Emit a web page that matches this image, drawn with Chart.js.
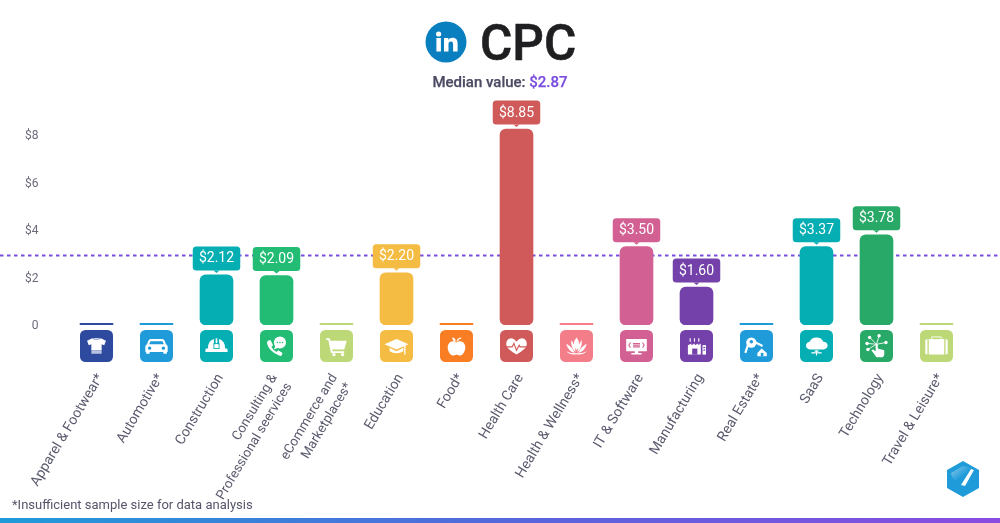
<!DOCTYPE html>
<html><head><meta charset="utf-8">
<style>
html,body{margin:0;padding:0;background:#fff;width:1000px;height:523px;overflow:hidden;font-family:Roboto,sans-serif}
#wrap{position:relative;width:1000px;height:523px}
canvas#c{position:absolute;left:0;top:0}
.t{position:absolute;white-space:nowrap}
#title{left:480px;top:14px;font-size:49.5px;line-height:58px;font-weight:500;color:#1f1f21;-webkit-text-stroke:.6px #1f1f21}
#sub{left:0;width:1000px;text-align:center;top:73px;font-size:15px;line-height:18px;font-weight:500;color:#4b4b63;-webkit-text-stroke:.25px}
#sub span{color:#7a4de0}
#foot{left:12px;top:497px;font-size:13px;line-height:16px;color:#55556a}
#bar{position:absolute;left:0;right:0;top:518px;height:5px;background:linear-gradient(90deg,#1f9bd9 0%,#5a63dc 55%,#8a4be0 100%)}
svg{position:absolute}
</style>
<script src="https://cdn.jsdelivr.net/npm/chart.js@4"></script>
</head><body><div id="wrap">
<canvas id="c" width="1000" height="523"></canvas>
<svg style="left:425px;top:21px" width="42" height="42" viewBox="0 0 42 42"><circle cx="21" cy="21" r="20.5" fill="#0a7fc0"/><g fill="#fff"><circle cx="13.6" cy="13" r="2.6"/><rect x="11.4" y="17" width="4.5" height="13.5"/><path d="M19 17h4.3v1.9c.8-1.3 2.4-2.2 4.3-2.2 3.6 0 5 2.2 5 5.9v7.9h-4.5v-7c0-1.900-.6-3-2.200-3-1.800 0-2.400 1.300-2.400 3v7H19z"/></g></svg>
<div class="t" id="title">CPC</div>
<div class="t" id="sub">Median value: <span>$2.87</span></div>
<div class="t" id="foot">*Insufficient sample size for data analysis</div>
<svg style="left:945px;top:460px" width="36" height="38" viewBox="0 0 36 38"><defs><linearGradient id="g" x1="0" y1="0" x2="1" y2="1"><stop offset="0" stop-color="#8fcdec"/><stop offset=".55" stop-color="#1f9bd9"/></linearGradient></defs><path d="M18 1L34 10V28L18 37L2 28V10Z" fill="#1f9bd9"/><path d="M6 13L18 6L28 8L20 24C12 24 7 19 6 13Z" fill="url(#g)"/><path d="M26 9L29 10L20 26L16 25Z" fill="#fff"/></svg>
<div id="bar"></div>
</div>
<script>
const categories = [
  "Apparel & Footwear*", "Automotive*", "Construction",
  ["Consulting &", "Professional seervices"],
  ["eCommerce and", "Marketplaces*"],
  "Education", "Food*", "Health Care", "Health & Wellness*",
  "IT & Software", "Manufacturing", "Real Estate*", "SaaS", "Technology", "Travel & Leisure*"
];
// Bar lengths (starred rows are only a thin stub).
const barValues = [0.07, 0.07, 2.11, 2.08, 0.07, 2.2, 0.07, 8.25, 0.07, 3.3, 1.6, 0.07, 3.3, 3.8, 0.07];
// Printed callouts; null where no callout is shown.
const valueLabels = [null, null, "$2.12", "$2.09", null, "$2.20", null, "$8.85", null, "$3.50", "$1.60", null, "$3.37", "$3.78", null];
const barColors = ["#2e4a9e", "#1f9bd9", "#05aeb3", "#22bc75", "#bdd876", "#f4bc43", "#f97d23", "#d05a5a", "#f47d8a", "#d36092", "#7440a9", "#1f9bd9", "#05aeb3", "#29a968", "#bdd876"];
const iconNames = ["shirt", "car", "helmet", "phone", "cart", "cap", "apple", "heart", "lotus", "monitor", "factory", "key", "cloud", "touch", "case"];
const yTickValues = [0, 2, 4, 6, 8];
const medianLineValue = 2.93;

const P = s => new Path2D(s);
const icons = {
  shirt(c){ c.fillStyle="#fff"; c.fill(P("M-4 -9L4 -9Q0 -6 -4 -9ZM-5 -9L-11 -6L-9 -1L-6 -2V5H6V-2L9 -1L11 -6L5 -9Q0 -5 -5 -9Z")); c.fillStyle="#b9c3e2"; c.fillRect(-6,5,12,4); },
  car(c,b){ c.fillStyle="#fff"; c.fill(P("M-7 -8H7Q9 -8 10 -5L11 -2Q13 -1 13 1V6Q13 7 12 7V9H8V7H-8V9H-12V7Q-13 7 -13 6V1Q-13 -1 -11 -2L-10 -5Q-9 -8 -7 -8Z")); c.fillStyle=b; c.fill(P("M-7 -5.500H7L8.500 -2H-8.500Z")); c.beginPath(); c.arc(-8,2.500,2,0,7); c.arc(8,2.500,2,0,7); c.fill(); },
  helmet(c,b){ c.fillStyle="#fff"; c.fill(P("M-10 3Q-10 -6 -3 -8V-2H-1V-9H1V-2H3V-8Q10 -6 10 3H12Q13 3 13 6Q13 7 12 7H-12Q-13 7 -13 6Q-13 3 -12 3Z")); c.strokeStyle=b; c.lineWidth=1; c.strokeRect(-3,-3,6,6); },
  phone(c){ c.fillStyle="#fff"; c.fill(P("M-10 -6L-7 -7L-4 -1L-6 1Q-4 5 0 7L2 5L7 8L6 11Q5 12 3 11Q-9 6 -11 -3Q-11 -5 -10 -6Z")); c.beginPath(); c.arc(4,-4,7,0,7); c.fill(); c.fill(P("M-1 -1L-3 4L2 2Z")); c.fillStyle=barColors[3]; [1,4,7].forEach(x=>{c.beginPath();c.arc(x,-4,.9,0,7);c.fill();}); },
  cart(c){ c.fillStyle="#fff"; c.fill(P("M-12 -9H-8L-7 -6H12L9 4H-5L-4.500 6H9V8H-6.500L-9.500 -7H-12Z")); c.beginPath(); c.arc(-3,10,2,0,7); c.arc(7,10,2,0,7); c.fill(); },
  cap(c){ c.fillStyle="#fff"; c.fill(P("M0 -8L14 -2L0 4L-14 -2Z")); c.fill(P("M-8 2L0 6L8 2V6Q0 11 -8 6Z")); c.fillRect(9,-1,1.500,11); },
  apple(c){ c.fillStyle="#fff"; c.fill(P("M0 -4Q-4 -7 -8 -4Q-11 -1 -10 4Q-8 11 -4 11Q-2 11 0 10Q2 11 4 11Q8 11 10 4Q11 -1 8 -4Q4 -7 0 -4Z")); c.fill(P("M0 -5Q0 -9 5 -10L6 -9Q2 -8 1 -5Z")); c.fill(P("M-1 -5Q-5 -6 -5 -10Q-1 -10 -1 -5Z")); },
  heart(c,b){ c.fillStyle="#fff"; c.fill(P("M0 -5Q-3 -9 -7 -9Q-12 -8 -12 -2Q-12 3 0 10Q12 3 12 -2Q12 -8 7 -9Q3 -9 0 -5Z")); c.strokeStyle=b; c.lineWidth=1.300; c.beginPath(); c.moveTo(-13,1); c.lineTo(-5,1); c.lineTo(-3,-3); c.lineTo(0,5); c.lineTo(3,-1); c.lineTo(4,1); c.lineTo(13,1); c.stroke(); },
  lotus(c){ c.fillStyle="#fff"; c.fill(P("M0 -10Q6 -3 0 5Q-6 -3 0 -10ZM-6 -7Q-7 2 -1 7Q-2 -2 -6 -7ZM6 -7Q7 2 1 7Q2 -2 6 -7ZM-12 -3Q-10 6 -2 8Q-5 1 -12 -3ZM12 -3Q10 6 2 8Q5 1 12 -3ZM-12 6Q-7 11 0 9.500Q7 11 12 6Q6 9 0 8.500Q-6 9 -12 6Z")); },
  monitor(c,b){ c.fillStyle="#fff"; c.fill(P("M-12 -8H12V6H2V8H6V10H-6V8H-2V6H-12Z")); c.strokeStyle=b; c.lineWidth=1.200; c.beginPath(); c.moveTo(-7,-4); c.lineTo(-9,-1); c.lineTo(-7,2); c.moveTo(7,-4); c.lineTo(9,-1); c.lineTo(7,2); c.moveTo(-4,-3); c.lineTo(4,-3); c.moveTo(-4,-1); c.lineTo(4,-1); c.moveTo(-4,1); c.lineTo(4,1); c.stroke(); },
  factory(c,b){ c.fillStyle="#fff"; c.fill(P("M-10 -1L-6 -3V-1L-2 -3V-1L2 -3V-1L5 -3V10H-10Z")); c.fillRect(7,-1,4,11); c.fillStyle=b; c.fillRect(-5,3,6,7); c.fillRect(8,1,2,1.500); c.fillRect(8,4,2,1.500); c.fillStyle="#fff"; [-8,-3,2].forEach(x=>{c.fillRect(x,-9,1.300,4);}); },
  key(c,b){ c.fillStyle="#fff"; c.beginPath(); c.arc(-6,-4,6,0,7); c.fill(); c.strokeStyle="#fff"; c.lineWidth=2.500; c.beginPath(); c.moveTo(-10,-1); c.lineTo(-13,8); c.moveTo(-1,-4); c.lineTo(7,0); c.stroke(); c.fill(P("M6 3L12 8V12H1V8Z")); c.fillStyle=b; c.beginPath(); c.arc(-6,-5,2,0,7); c.fill(); c.fillRect(5,8,3,4); },
  cloud(c){ c.fillStyle="#fff"; c.fill(P("M-8 4Q-13 3 -12 -2Q-11 -5 -8 -5Q-6 -10 0 -10Q6 -10 8 -5Q12 -5 13 -1Q13 3 8 4Z")); c.strokeStyle="#fff"; c.lineWidth=1.200; c.beginPath(); c.moveTo(-1.500,5); c.lineTo(-1.500,8); c.lineTo(-6,8); c.moveTo(1.500,5); c.lineTo(1.500,8); c.lineTo(6,8); c.moveTo(0,5); c.lineTo(0,11); c.stroke(); },
  touch(c){ c.strokeStyle="#fff"; c.fillStyle="#fff"; c.lineWidth=1; [[-11,-3],[-8,-10],[3,-12],[11,-4],[-10,4]].forEach(p=>{c.beginPath();c.moveTo(0,-2);c.lineTo(p[0],p[1]);c.stroke();c.beginPath();c.arc(p[0],p[1],2,0,7);c.fill();}); c.fill(P("M-1 -2H1.500V3L9 5V10Q9 12 7 13H0L-6 5L-4 4L-1 6Z")); },
  case(c,b){ c.fillStyle="#fff"; c.fill(P("M-5 -8H5V-10H-5ZM-6 -10Q-6 -11 -5 -11H5Q6 -11 6 -10V-8H9V10H-9V-8H-6Z")); c.fill(P("M-13 -7Q-11 -8 -10.500 -8V10Q-11 10 -13 9ZM13 -7Q11 -8 10.500 -8V10Q11 10 13 9Z")); c.fillStyle=b; c.fillRect(-4.500,-9.500,9,1.500); },
};

function rr(c,x,y,w,h,r){ c.beginPath(); c.roundRect(x,y,w,h,r); }

const overlay = {
  id: "overlay",
  afterLayout(ch){
    // two-line labels sit a little further left than single-line ones
    ch.scales.x.getLabelItems().forEach((it,i)=>{
      if(Array.isArray(categories[i])) it.options.translation[0]-=6;
    });
  },
  beforeDatasetsDraw(ch){
    const c = ch.ctx, y = ch.scales.y.getPixelForValue(medianLineValue);
    c.save(); c.strokeStyle="#7a4de0"; c.lineWidth=2; c.setLineDash([3.500,3.500]);
    c.beginPath(); c.moveTo(0,y); c.lineTo(1000,y); c.stroke(); c.restore();
  },
  afterDatasetsDraw(ch){
    const c = ch.ctx, xs = ch.scales.x, ys = ch.scales.y;
    const zero = ys.getPixelForValue(0);
    categories.forEach((_,i)=>{
      const x = xs.getPixelForTick(i), col = barColors[i];
      // icon tile under the axis
      c.save(); c.fillStyle=col; rr(c,x-16.500,zero+5,33,32,5.500); c.fill();
      c.translate(x,zero+21); c.scale(.86,.86); icons[iconNames[i]](c,col); c.restore();
      // callout above the bar
      if(valueLabels[i]){
        const top = ys.getPixelForValue(barValues[i]), b = top-4.500, w=47.500, h=24;
        c.save(); c.fillStyle=col; rr(c,x-w/2,b-h,w,h,3.500); c.fill();
        c.beginPath(); c.moveTo(x-3,b); c.lineTo(x+3,b); c.lineTo(x,b+2.500); c.closePath(); c.fill();
        c.fillStyle="#fff"; c.font="14px Roboto"; c.textAlign="center"; c.textBaseline="middle";
        c.fillText(valueLabels[i],x,b-h/2+.5); c.restore();
      }
    });
  }
};

new Chart(document.getElementById("c"),{
  type:"bar",
  data:{labels:categories,datasets:[{data:barValues,backgroundColor:barColors,barThickness:33,borderRadius:6,borderSkipped:false}]},
  options:{
    responsive:false,animation:false,
    layout:{padding:{top:111.25,right:33.5,left:0,bottom:0}},
    plugins:{legend:{display:false},tooltip:{enabled:false},title:{display:false}},
    scales:{
      x:{
        grid:{display:false,drawTicks:false},border:{display:false},
        afterFit(s){s.height=198;s.paddingLeft=0;s.paddingRight=0;},
        ticks:{autoSkip:false,minRotation:59,maxRotation:59,padding:46,labelOffset:4,color:"#5a5a6e",
          font:ctx=>Array.isArray(categories[ctx.index])?{family:"Roboto",size:13.3,lineHeight:1.28}:{family:"Roboto",size:14,lineHeight:1.2}}
      },
      y:{
        min:0,max:9,
        grid:{display:false,drawTicks:false},border:{display:false},
        afterFit(s){s.width=66.5;s.paddingTop=0;s.paddingBottom=0;},
        afterBuildTicks(s){s.ticks=yTickValues.map(v=>({value:v}));},
        ticks:{padding:28,labelOffset:1,color:"#6a6a7c",font:{family:"Roboto",size:12},callback:v=>v===0?"0":"$"+v}
      }
    }
  },
  plugins:[overlay]
});
</script>
</body></html>
